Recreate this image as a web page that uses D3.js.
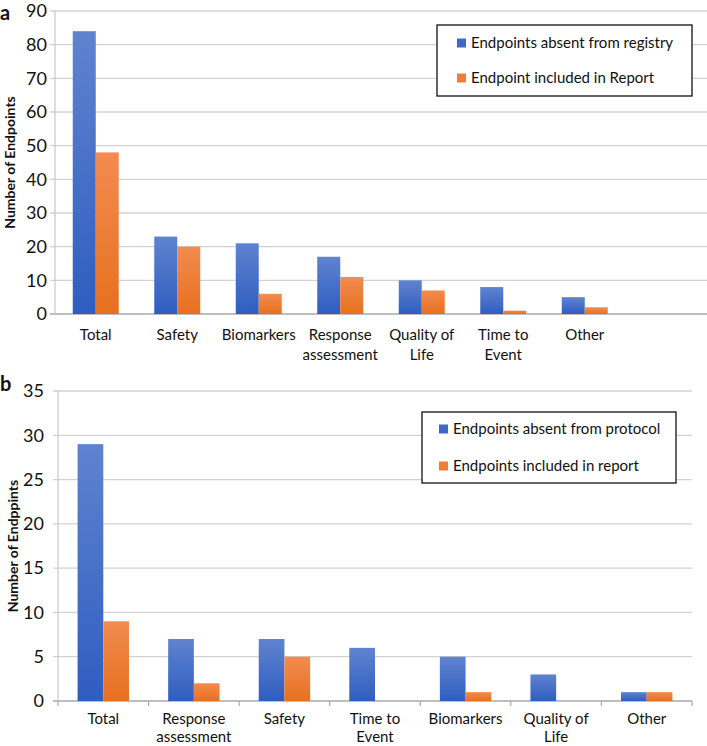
<!DOCTYPE html>
<html><head><meta charset="utf-8">
<script src="https://cdn.jsdelivr.net/npm/d3@7"></script>
<style>body{margin:0;background:#fff}svg{display:block}text{font-family:Lato,"Open Sans",sans-serif;fill:#111}</style>
</head><body><svg id="c" width="707" height="746"></svg>
<script>
// Panel a
const catsA = ["Total","Safety","Biomarkers","Response\nassessment","Quality of\nLife","Time to\nEvent","Other",""];
const absentRegistry = [84,23,21,17,10,8,5,null];
const includedReportA = [48,20,6,11,7,1,2,null];
const ticksA = [0,10,20,30,40,50,60,70,80,90];
const legendA = ["Endpoints absent from registry","Endpoint included in Report"];
// Panel b
const catsB = ["Total","Response\nassessment","Safety","Time to\nEvent","Biomarkers","Quality of\nLife","Other"];
const absentProtocol = [29,7,7,6,5,3,1];
const includedReportB = [9,2,5,0,1,0,1];
const ticksB = [0,5,10,15,20,25,30,35];
const legendB = ["Endpoints absent from protocol","Endpoints included in report"];

const svg = d3.select("#c");
const defs = svg.append("defs");
function grad(id,c1,c2){const g=defs.append("linearGradient").attr("id",id).attr("x1",0).attr("y1",0).attr("x2",0).attr("y2",1);
 g.append("stop").attr("offset","0%").attr("stop-color",c1);g.append("stop").attr("offset","100%").attr("stop-color",c2);}
grad("gb","#5f83cf","#2f5dc0");grad("go","#f28c50","#e7701e");

function panel(o){
  const g = svg.append("g");
  const x = d3.scaleBand().domain(o.cats.map((d,i)=>i)).range([o.x0,o.x1]);
  const y = d3.scaleLinear().domain([0,o.max]).range([o.yb,o.yt]);
  g.selectAll("line.grid").data(o.ticks).join("line")
    .attr("x1",o.x0-5).attr("x2",o.gx1).attr("y1",d=>y(d)).attr("y2",d=>y(d))
    .attr("stroke",d=>d===0?"#a8a8a8":"#d2d2d2").attr("stroke-width",1.3);
  g.append("line").attr("x1",o.x0).attr("x2",o.x0).attr("y1",o.yt).attr("y2",o.yb).attr("stroke","#c8c8c8").attr("stroke-width",1.2);
  if(o.xticks){
    g.selectAll("line.xt").data(d3.range(o.cats.length+1)).join("line")
      .attr("x1",i=>o.x0+i*x.step()).attr("x2",i=>o.x0+i*x.step()).attr("y1",o.yb).attr("y2",o.yb+5)
      .attr("stroke","#a8a8a8").attr("stroke-width",1.2);
  }
  g.selectAll("text.yt").data(o.ticks).join("text")
    .attr("x",o.x0-o.tlo).attr("y",d=>y(d)).attr("dy","0.35em").attr("text-anchor","end")
    .style("font-size","18px").text(d=>d);
  const bw = o.bw;
  const series=[{v:o.s1,f:"url(#gb)",off:-bw},{v:o.s2,f:"url(#go)",off:0}];
  series.forEach(s=>{
    g.selectAll(null).data(s.v.map((v,i)=>({v,i})).filter(d=>d.v!=null)).join("rect")
      .attr("x",d=>x(d.i)+x.bandwidth()/2+s.off).attr("width",bw)
      .attr("y",d=>y(d.v)).attr("height",d=>y(0)-y(d.v)).attr("fill",s.f);
  });
  o.cats.forEach((c,i)=>{
    const t=g.append("text").attr("x",x(i)+x.bandwidth()/2).attr("y",o.yb+o.lab).attr("text-anchor","middle").style("font-size","15px");
    c.split("\n").forEach((l,j)=>t.append("tspan").attr("x",x(i)+x.bandwidth()/2).attr("dy",j?o.lh:0).text(l));
  });
  g.append("text").attr("transform",`translate(${o.ylx},${(o.yt+o.yb)/2}) rotate(-90)`).attr("text-anchor","middle")
    .attr("dy","0.35em").style("font-size","14px").style("font-weight","bold").text(o.ylabel);
  const L=o.leg;
  g.append("rect").attr("x",L.x).attr("y",L.y).attr("width",L.w).attr("height",L.h).attr("fill","#fff").attr("stroke","#111").attr("stroke-width",1.3);
  ["#3f69c7","#ee7d36"].forEach((c,i)=>{
    const cy=L.y+L.r1+i*L.gap;
    g.append("rect").attr("x",L.sx).attr("y",cy-4.5).attr("width",9).attr("height",9).attr("fill",c);
    g.append("text").attr("x",L.sx+14).attr("y",cy).attr("dy","0.35em").style("font-size","15px").text(o.legend[i]);
  });
  svg.append("text").attr("x",0).attr("y",o.py).style("font-size","20px").style("font-weight","bold").text(o.letter);
}

panel({cats:catsA,s1:absentRegistry,s2:includedReportA,ticks:ticksA,max:90,x0:55,x1:707,gx1:707,yt:11,yb:314,bw:23,lab:26,lh:"1.3em",tlo:8,
  ylabel:"Number of Endpoints",ylx:10,legend:legendA,xticks:false,
  leg:{x:437,y:25,w:255,h:71,sx:457,r1:18,gap:35},letter:"a",py:20});
panel({cats:catsB,s1:absentProtocol,s2:includedReportB,ticks:ticksB,max:35,x0:58,x1:692,gx1:692,yt:391,yb:701,bw:25.7,lab:23,lh:"1.2em",tlo:14,
  ylabel:"Number of Endppints",ylx:13,legend:legendB,xticks:true,
  leg:{x:422,y:412,w:254,h:71,sx:439,r1:17,gap:37},letter:"b",py:391});
</script></body></html>
